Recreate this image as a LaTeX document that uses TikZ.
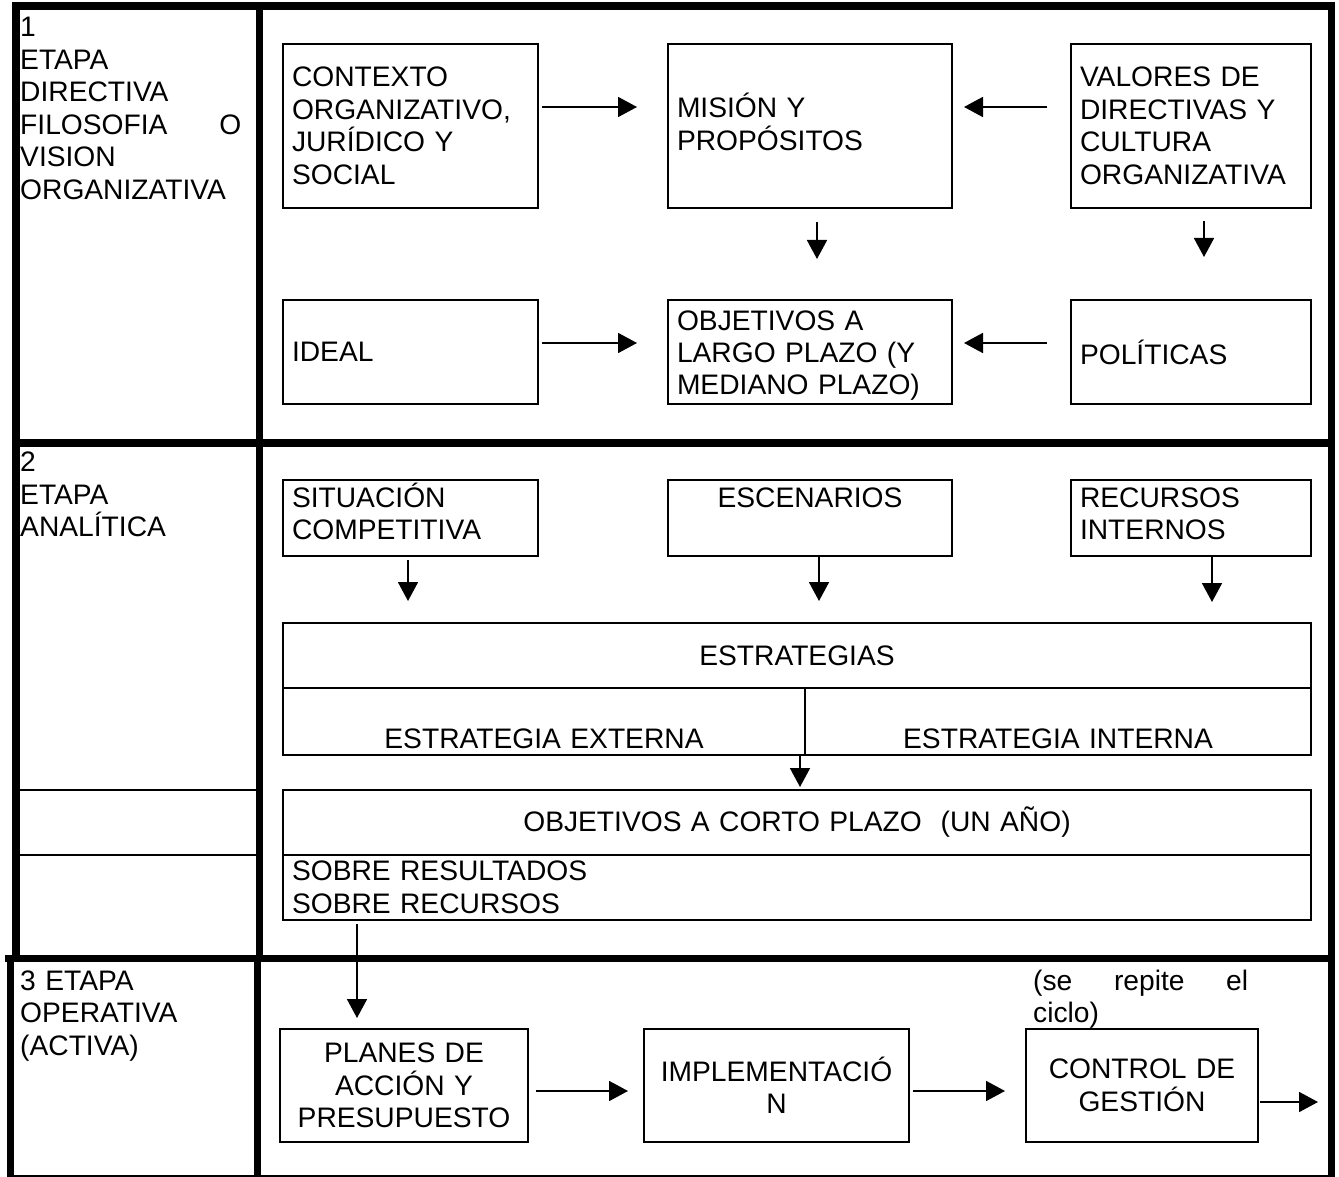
\documentclass[tikz,border=0pt]{standalone}
\usepackage{fontspec}
\setmainfont{Liberation Sans}
\usepackage{tikz}
\usetikzlibrary{arrows.meta,positioning}

\tikzset{
  caja/.style={draw, line width=2.2pt, outer sep=0pt, inner xsep=9pt, inner ysep=2pt, align=left},
  etapa/.style={anchor=north west, inner sep=0pt, text width=221pt, align=left},
  marco/.style={line width=7.5pt, line cap=rect},
  fina/.style={line width=2pt},
  flecha/.style={line width=1.8pt, -{Triangle[length=19pt,width=20pt]}}
}

\begin{document}
\begin{tikzpicture}[x=1pt, y=-1pt, font=\fontsize{28.2pt}{32.5pt}\selectfont]
  \useasboundingbox (0,0) rectangle (1339,1177);

  % marco de la tabla
  \draw[marco] (16,6) -- (1331.5,6);
  \draw[marco] (16,6) -- (16,958.5);
  \draw[marco] (259.5,6) -- (259.5,958.5);
  \draw[marco] (1331.5,6) -- (1331.5,1175.5);
  \draw[marco] (16,443) -- (1331.5,443);
  \draw[marco] (9,958.5) -- (1331.5,958.5);
  \draw[marco] (10.5,958.5) -- (10.5,1175.5);
  \draw[marco] (257.5,958.5) -- (257.5,1175.5);
  \draw[line width=2.5pt] (7,1175.8) -- (1335,1175.8);
  \draw[fina] (16,790) -- (259.5,790);
  \draw[fina] (16,855) -- (259.5,855);

  \node (etapa1) [etapa] at (20,17) {1\\ETAPA\\DIRECTIVA\\FILOSOFIA\hfill O\\VISION\\ORGANIZATIVA};
  \node (contexto) [caja, text width=237pt, minimum height=164pt] at (410.5,126) {CONTEXTO\\ORGANIZATIVO,\\JURÍDICO Y\\SOCIAL};
  \node (mision) [caja, text width=266pt, minimum height=164pt, text height=20pt, text depth=36pt, right=130pt of contexto] {MISIÓN Y\\PROPÓSITOS};
  \node (valores) [caja, text width=222pt, minimum height=164pt, right=119pt of mision] {VALORES DE\\DIRECTIVAS Y\\CULTURA\\ORGANIZATIVA};
  \node (ideal) [caja, text width=237pt, minimum height=104pt, below=92pt of contexto] {IDEAL};
  \node (objlargo) [caja, text width=266pt, minimum height=104pt, text height=27pt, text depth=71pt, below=92pt of mision] {OBJETIVOS A\\LARGO PLAZO (Y\\MEDIANO PLAZO)};
  \node (politicas) [caja, text width=222pt, minimum height=104pt, below=92pt of valores] {POLÍTICAS};

  \node (etapa2) [etapa] at (20,452) {2\\ETAPA\\ANALÍTICA};
  \node (situacion) [caja, text width=237pt, minimum height=76pt, text height=20pt, text depth=42pt, below=76pt of ideal] {SITUACIÓN\\COMPETITIVA};
  \node (escenarios) [caja, text width=266pt, minimum height=76pt, align=center, text height=20pt, text depth=42pt, below=76pt of objlargo] {ESCENARIOS};
  \node (recursos) [caja, text width=222pt, minimum height=76pt, text height=20pt, text depth=42pt, below=76pt of politicas] {RECURSOS\\INTERNOS};
  \node (estrategias) [caja, text width=1010pt, minimum height=65pt, align=center] at (797,655.5) {ESTRATEGIAS};
  \node (externa) [caja, text width=504pt, minimum height=67pt, align=center, text height=53pt, text depth=0pt, anchor=north west] at (estrategias.south west) {ESTRATEGIA EXTERNA};
  \node (interna) [caja, text width=488pt, minimum height=67pt, align=center, text height=53pt, text depth=0pt, anchor=north east] at (estrategias.south east) {ESTRATEGIA INTERNA};
  \node (objcorto) [caja, text width=1010pt, minimum height=65pt, align=center, below=35pt of externa.south west, anchor=north west] {OBJETIVOS A CORTO PLAZO\ \ (UN AÑO)};
  \node (sobre) [caja, text width=1010pt, minimum height=65pt, below=0pt of objcorto] {SOBRE RESULTADOS\\SOBRE RECURSOS};

  \node (etapa3) [etapa] at (20,970.5) {3 ETAPA\\OPERATIVA\\(ACTIVA)};
  \node (planes) [caja, text width=230pt, minimum height=113pt, align=center] at (404,1085.5) {PLANES DE\\ACCIÓN Y\\PRESUPUESTO};
  \node (implementacion) [caja, text width=247pt, minimum height=113pt, align=center, right=116pt of planes] {IMPLEMENTACIÓ\\N};
  \node (control) [caja, text width=214pt, minimum height=113pt, align=center, right=117pt of implementacion] {CONTROL DE\\GESTIÓN};
  \node (ciclo) [anchor=north west, inner sep=0pt, text width=215pt, align=left] at (1033,969.5) {(se\hfill repite\hfill el\\ciclo)};
  \coordinate (salida) at ([xshift=60pt,yshift=-16.5pt]control.east);

  \draw[flecha] ([xshift=4pt,yshift=19pt]contexto.east) -- ([xshift=-31pt,yshift=19pt]mision.west);
  \draw[flecha] ([xshift=-24pt,yshift=19pt]valores.west) -- ([xshift=12pt,yshift=19pt]mision.east);
  \draw[flecha] ([xshift=7pt,yshift=-14pt]mision.south) -- ([xshift=7pt,yshift=41pt]objlargo.north);
  \draw[flecha] ([xshift=13pt,yshift=-13pt]valores.south) -- ([xshift=13pt,yshift=43pt]politicas.north);
  \draw[flecha] ([xshift=4pt,yshift=9pt]ideal.east) -- ([xshift=-31pt,yshift=9pt]objlargo.west);
  \draw[flecha] ([xshift=-24pt,yshift=9pt]politicas.west) -- ([xshift=12pt,yshift=9pt]objlargo.east);

  \draw[flecha] ([xshift=-2.5pt,yshift=-4pt]situacion.south) -- ([xshift=125pt,yshift=22pt]estrategias.north west);
  \draw[flecha] ([xshift=9pt]escenarios.south) -- ([xshift=22pt,yshift=22pt]estrategias.north);
  \draw[flecha] ([xshift=21pt]recursos.south) -- ([xshift=-99pt,yshift=21pt]estrategias.north east);
  \draw[flecha] ([xshift=-5pt]externa.south east) -- ([xshift=3pt,yshift=3pt]objcorto.north);
  \draw[flecha] ([xshift=74pt,yshift=-4pt]sobre.south west) -- ([xshift=-47pt,yshift=11pt]planes.north);

  \draw[flecha] ([xshift=8pt,yshift=-5.5pt]planes.east) -- ([xshift=-16pt,yshift=-5.5pt]implementacion.west);
  \draw[flecha] ([xshift=4pt,yshift=-5.5pt]implementacion.east) -- ([xshift=-21pt,yshift=-5.5pt]control.west);
  \draw[flecha] ([xshift=2pt,yshift=-16.5pt]control.east) -- (salida);
\end{tikzpicture}
\end{document}
